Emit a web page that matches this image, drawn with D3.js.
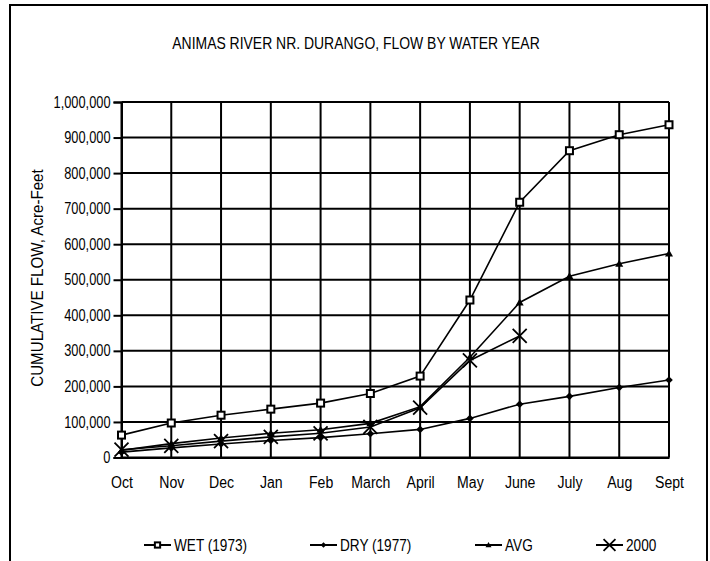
<!DOCTYPE html>
<html>
<head>
<meta charset="utf-8">
<script src="https://cdn.jsdelivr.net/npm/d3@7"></script>
<style>
  html, body { margin: 0; padding: 0; background: #fff; }
  svg { display: block; }
  text { font-family: "Liberation Sans", Arial, sans-serif; fill: #000; }
</style>
</head>
<body>
<svg id="chart" width="710" height="561"></svg>
<script>
const months = ["Oct", "Nov", "Dec", "Jan", "Feb", "March", "April", "May", "June", "July", "Aug", "Sept"];
const wet1973 = [63000, 97000, 119000, 136000, 153000, 180000, 229000, 443000, 718000, 863000, 908000, 936000];
const dry1977 = [15000, 27000, 38000, 48000, 56000, 67000, 79000, 110000, 150000, 172000, 197000, 218000];
const avg = [20000, 39000, 55000, 68000, 78000, 96000, 143000, 282000, 436000, 510000, 545000, 574000];
const y2000 = [22000, 33000, 46000, 58000, 68000, 86000, 140000, 273000, 342000, null, null, null];
const yTicks = [0, 100000, 200000, 300000, 400000, 500000, 600000, 700000, 800000, 900000, 1000000];
const seriesNames = ["WET (1973)", "DRY (1977)", "AVG", "2000"];
const seriesMarkers = ["square", "diamond", "triangle", "cross"];
const titleText = "ANIMAS RIVER NR. DURANGO, FLOW BY WATER YEAR";
const yTitle = "CUMULATIVE FLOW, Acre-Feet";

const series = [wet1973, dry1977, avg, y2000].map((vals, i) => ({
  name: seriesNames[i], marker: seriesMarkers[i], values: vals
}));

// narrow the glyphs horizontally (the original uses a condensed face)
function condense(sel, factor) {
  sel.each(function () {
    const w = this.getComputedTextLength();
    d3.select(this).attr("textLength", (w * factor).toFixed(2)).attr("lengthAdjust", "spacingAndGlyphs");
  });
}

const svg = d3.select("#chart");
const plot = { left: 121.5, right: 669, top: 102, bottom: 457.5 };

// outer frame
svg.append("rect").attr("x", 10).attr("y", 5).attr("width", 697).attr("height", 600)
  .attr("fill", "none").attr("stroke", "#000").attr("stroke-width", 2);

const x = d3.scalePoint().domain(months).range([plot.left, plot.right]).padding(0);
const y = d3.scaleLinear().domain([0, 1000000]).range([plot.bottom, plot.top]);

// gridlines
const g = svg.append("g");
g.selectAll("line.h").data(yTicks).join("line")
  .attr("x1", plot.left).attr("x2", plot.right)
  .attr("y1", d => y(d)).attr("y2", d => y(d))
  .attr("stroke", "#000").attr("stroke-width", 2);
g.selectAll("line.v").data(months).join("line")
  .attr("x1", d => x(d)).attr("x2", d => x(d))
  .attr("y1", plot.top).attr("y2", plot.bottom)
  .attr("stroke", "#000").attr("stroke-width", 2);

// y axis
const yAxis = d3.axisLeft(y).tickValues(yTicks).tickFormat(d3.format(",")).tickSize(8).tickPadding(3);
const ya = svg.append("g").attr("transform", `translate(${plot.left},0)`).call(yAxis);
ya.select(".domain").attr("stroke", "#000").attr("stroke-width", 2);
ya.selectAll(".tick line").attr("stroke", "#000").attr("stroke-width", 2);
ya.selectAll(".tick text").attr("font-size", 16).attr("font-family", null).call(condense, 0.8);

// x axis
const xAxis = d3.axisBottom(x).tickSize(0).tickPadding(19);
const xa = svg.append("g").attr("transform", `translate(0,${plot.bottom})`).call(xAxis);
xa.select(".domain").attr("stroke", "#000").attr("stroke-width", 2);
xa.selectAll(".tick text").attr("font-size", 16).attr("font-family", null).call(condense, 0.88);

// titles
svg.append("text").attr("x", 356).attr("y", 49).attr("text-anchor", "middle")
  .attr("font-size", 17).text(titleText).call(condense, 0.82);
svg.append("text").attr("transform", "translate(43,278) rotate(-90)")
  .attr("text-anchor", "middle").attr("font-size", 17).text(yTitle).call(condense, 0.89);

// lines
const line = d3.line().defined(d => d.v !== null).x(d => x(d.m)).y(d => y(d.v));
function drawMarker(sel, type, cx, cy, s) {
  if (type === "square") {
    sel.append("rect").attr("x", cx - 3.5 * s).attr("y", cy - 3.5 * s).attr("width", 7 * s).attr("height", 7 * s)
      .attr("fill", "#fff").attr("stroke", "#000").attr("stroke-width", 2);
  } else if (type === "diamond") {
    sel.append("path").attr("d", `M${cx},${cy - 3.8 * s}L${cx + 3.8 * s},${cy}L${cx},${cy + 3.8 * s}L${cx - 3.8 * s},${cy}Z`)
      .attr("fill", "#000");
  } else if (type === "triangle") {
    sel.append("path").attr("d", `M${cx},${cy - 4 * s}L${cx + 4 * s},${cy + 3 * s}L${cx - 4 * s},${cy + 3 * s}Z`)
      .attr("fill", "#000");
  } else if (type === "cross") {
    sel.append("path").attr("d", `M${cx - 7 * s},${cy - 7 * s}L${cx + 7 * s},${cy + 7 * s}M${cx - 7 * s},${cy + 7 * s}L${cx + 7 * s},${cy - 7 * s}`)
      .attr("stroke", "#000").attr("stroke-width", 1.8).attr("fill", "none");
  }
}
series.forEach(s => {
  const pts = s.values.map((v, i) => ({ m: months[i], v }));
  svg.append("path").datum(pts).attr("d", line).attr("fill", "none")
    .attr("stroke", "#000").attr("stroke-width", 1.6);
  const mg = svg.append("g");
  pts.filter(p => p.v !== null).forEach(p => drawMarker(mg, s.marker, x(p.m), y(p.v), 1));
});

// legend
const legendX = [144, 310, 475, 596];
const legendY = 545;
series.forEach((s, i) => {
  const lg = svg.append("g");
  lg.append("line").attr("x1", legendX[i]).attr("x2", legendX[i] + 27)
    .attr("y1", legendY).attr("y2", legendY).attr("stroke", "#000").attr("stroke-width", 2);
  drawMarker(lg, s.marker, legendX[i] + 13.5, legendY, s.marker === "cross" ? 0.85 : 0.75);
  lg.append("text").attr("x", legendX[i] + 30).attr("y", legendY + 6)
    .attr("font-size", 16).text(s.name).call(condense, 0.85);
});
</script>
</body>
</html>
